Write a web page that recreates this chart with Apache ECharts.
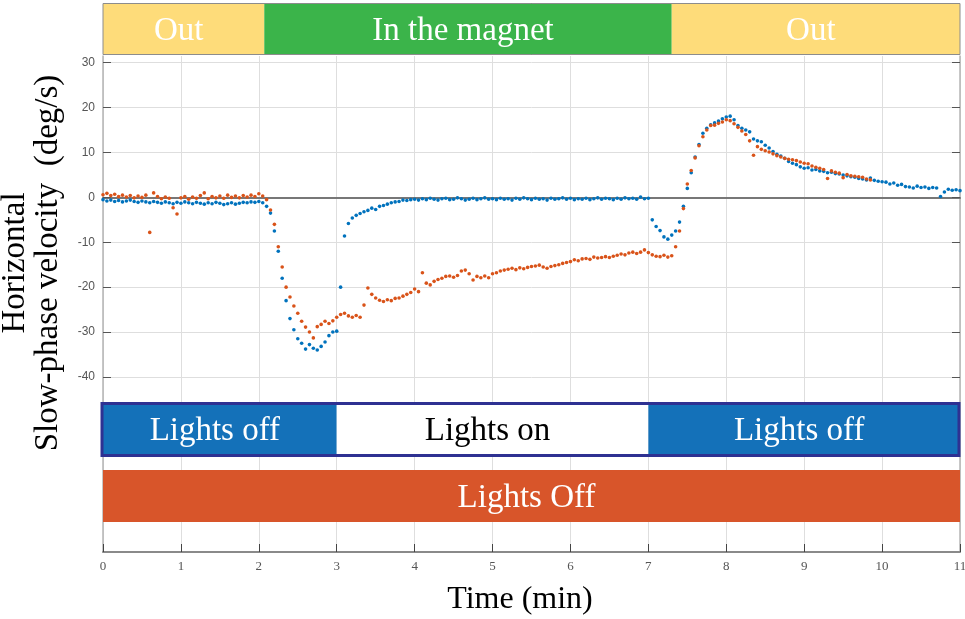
<!DOCTYPE html>
<html><head><meta charset="utf-8">
<script src="https://cdn.jsdelivr.net/npm/echarts@6/dist/echarts.min.js"></script>
<style>html,body{margin:0;padding:0;background:#fff}#chart{width:965px;height:619px}</style>
</head><body><div id="chart"></div>
<script>
// ---------------- data ----------------
const yTickValues = [-40, -30, -20, -10, 0, 10, 20, 30];
const magnetPhases = [[0, 2.07, 'Out'], [2.07, 7.3, 'In the magnet'], [7.3, 11, 'Out']];
const blueLightPhases = [[0, 3, 'Lights off'], [3, 7, 'Lights on'], [7, 11, 'Lights off']];
const orangeLightPhases = [[0, 11, 'Lights Off']];

const blueVelocity = [
[0,-0.5],[0.05,-0.8],[0.1,-0.6],[0.15,-0.9],[0.2,-0.7],[0.25,-1.0],[0.3,-0.8],[0.35,-0.6],[0.4,-0.9],[0.45,-1.1],
[0.5,-0.8],[0.55,-1.0],[0.6,-1.2],[0.65,-0.9],[0.7,-1.1],[0.75,-1.3],[0.8,-1.0],[0.85,-1.2],[0.9,-1.4],[0.95,-1.1],
[1.0,-1.3],[1.05,-1.0],[1.1,-1.2],[1.15,-1.4],[1.2,-1.1],[1.25,-1.3],[1.3,-1.5],[1.35,-1.2],[1.4,-1.4],[1.45,-1.1],
[1.5,-1.3],[1.55,-1.6],[1.6,-1.4],[1.65,-1.2],[1.7,-1.5],[1.75,-1.3],[1.8,-1.1],[1.85,-1.2],[1.9,-1.0],[1.95,-1.1],
[2.0,-0.9],[2.05,-1.2],[2.1,-2.0],[2.15,-3.5],[2.2,-7.5],[2.25,-12.0],[2.3,-18.0],[2.35,-23.0],[2.4,-27.0],[2.45,-29.5],
[2.5,-31.5],[2.55,-32.5],[2.6,-33.8],[2.65,-32.8],[2.7,-33.6],[2.75,-34.0],[2.8,-33.2],[2.85,-32.2],[2.9,-30.8],[2.95,-30.0],
[3.0,-29.8],[3.05,-20.0],[3.1,-8.6],[3.15,-5.8],[3.2,-4.6],[3.25,-4.0],[3.3,-3.6],[3.35,-3.2],[3.4,-2.9],[3.45,-2.4],
[3.5,-2.7],[3.55,-2.0],[3.6,-1.8],[3.65,-1.5],[3.7,-1.2],[3.75,-1.0],[3.8,-0.9],[3.85,-0.6],[3.9,-0.7],[3.95,-0.5],
[4.0,-0.4],[4.05,-0.6],[4.1,-0.3],[4.15,-0.5],[4.2,-0.2],[4.25,-0.4],[4.3,-0.6],[4.35,-0.3],[4.4,-0.2],[4.45,-0.5],
[4.5,-0.4],[4.55,-0.1],[4.6,-0.3],[4.65,-0.6],[4.7,-0.4],[4.75,-0.2],[4.8,-0.5],[4.85,-0.3],[4.9,-0.1],[4.95,-0.4],
[5.0,-0.3],[5.05,-0.5],[5.1,-0.2],[5.15,-0.4],[5.2,-0.3],[5.25,-0.6],[5.3,-0.2],[5.35,-0.4],[5.4,-0.1],[5.45,-0.3],
[5.5,-0.5],[5.55,-0.2],[5.6,-0.4],[5.65,-0.3],[5.7,-0.6],[5.75,-0.2],[5.8,-0.4],[5.85,-0.3],[5.9,-0.1],[5.95,-0.4],
[6.0,-0.2],[6.05,-0.5],[6.1,-0.3],[6.15,-0.4],[6.2,-0.2],[6.25,-0.5],[6.3,-0.3],[6.35,-0.1],[6.4,-0.4],[6.45,-0.2],
[6.5,-0.3],[6.55,-0.5],[6.6,-0.2],[6.65,-0.4],[6.7,-0.1],[6.75,-0.3],[6.8,-0.2],[6.85,-0.4],[6.9,0.1],[6.95,-0.3],
[7.0,-0.2],[7.05,-5.0],[7.1,-6.5],[7.15,-7.4],[7.2,-8.8],[7.25,-9.3],[7.3,-8.4],[7.35,-7.5],[7.4,-5.5],[7.45,-2.0],
[7.5,2.0],[7.55,5.5],[7.6,9.0],[7.65,11.8],[7.7,14.3],[7.75,15.4],[7.8,16.2],[7.85,16.6],[7.9,17.0],[7.95,17.5],
[8.0,17.9],[8.05,18.1],[8.1,17.3],[8.15,16.0],[8.2,15.4],[8.25,15.0],[8.3,14.6],[8.35,13.0],[8.4,12.6],[8.45,12.4],
[8.5,11.6],[8.55,11.0],[8.6,10.2],[8.65,9.6],[8.7,9.2],[8.75,8.7],[8.8,8.0],[8.85,7.6],[8.9,7.3],[8.95,6.8],
[9.0,6.5],[9.05,6.6],[9.1,6.1],[9.15,6.2],[9.2,5.9],[9.25,5.8],[9.3,5.5],[9.35,5.6],[9.4,5.3],[9.45,5.2],
[9.5,5.0],[9.55,4.8],[9.6,4.6],[9.65,4.5],[9.7,4.2],[9.75,4.1],[9.8,3.9],[9.85,4.3],[9.9,3.8],[9.95,3.6],
[10.0,3.5],[10.05,3.4],[10.1,3.0],[10.15,3.2],[10.2,2.7],[10.25,2.9],[10.3,2.4],[10.35,2.3],[10.4,2.1],[10.45,2.5],
[10.5,2.2],[10.55,2.3],[10.6,2.0],[10.65,2.2],[10.7,2.1],[10.75,0.2],[10.8,1.2],[10.85,1.8],[10.9,1.6],[10.95,1.7],
[11.0,1.5]
];

const orangeVelocity = [
[0,0.6],[0.05,0.9],[0.1,0.4],[0.15,0.7],[0.2,0.2],[0.25,0.5],[0.3,0.1],[0.35,0.4],[0.4,-0.1],[0.45,0.3],
[0.5,0.0],[0.55,0.5],[0.6,-7.8],[0.65,1.0],[0.7,0.2],[0.75,-0.3],[0.8,0.1],[0.85,-0.2],[0.9,-2.3],[0.95,-3.7],
[1.0,-0.1],[1.05,0.2],[1.1,-0.4],[1.15,0.1],[1.2,-0.2],[1.25,0.4],[1.3,1.0],[1.35,-0.3],[1.4,0.2],[1.45,-0.1],
[1.5,0.3],[1.55,-0.2],[1.6,0.5],[1.65,0.0],[1.7,0.3],[1.75,-0.1],[1.8,0.4],[1.85,0.1],[1.9,0.5],[1.95,0.2],
[2.0,0.8],[2.05,0.3],[2.1,-0.5],[2.15,-2.8],[2.2,-6.0],[2.25,-11.0],[2.3,-15.5],[2.35,-20.0],[2.4,-22.2],[2.45,-24.2],
[2.5,-25.8],[2.55,-27.6],[2.6,-28.9],[2.65,-30.0],[2.7,-31.3],[2.75,-28.8],[2.8,-28.3],[2.85,-27.6],[2.9,-28.1],[2.95,-27.5],
[3.0,-26.7],[3.05,-26.1],[3.1,-25.8],[3.15,-26.4],[3.2,-26.7],[3.25,-26.3],[3.3,-26.7],[3.35,-24.0],[3.4,-20.2],[3.45,-21.6],
[3.5,-22.4],[3.55,-22.9],[3.6,-23.2],[3.65,-22.8],[3.7,-23.0],[3.75,-22.5],[3.8,-22.4],[3.85,-22.0],[3.9,-21.6],[3.95,-21.2],
[4.0,-20.4],[4.05,-21.0],[4.1,-16.8],[4.15,-19.1],[4.2,-19.5],[4.25,-18.7],[4.3,-18.3],[4.35,-18.0],[4.4,-17.6],[4.45,-17.5],
[4.5,-17.8],[4.55,-17.4],[4.6,-16.4],[4.65,-16.2],[4.7,-17.0],[4.75,-18.4],[4.8,-17.6],[4.85,-17.9],[4.9,-17.5],[4.95,-17.9],
[5.0,-17.0],[5.05,-16.8],[5.1,-16.4],[5.15,-16.2],[5.2,-16.0],[5.25,-15.8],[5.3,-16.1],[5.35,-15.7],[5.4,-15.9],[5.45,-15.6],
[5.5,-15.4],[5.55,-15.3],[5.6,-15.1],[5.65,-15.5],[5.7,-15.8],[5.75,-15.4],[5.8,-15.2],[5.85,-15.0],[5.9,-14.7],[5.95,-14.5],
[6.0,-14.3],[6.05,-13.9],[6.1,-14.1],[6.15,-13.7],[6.2,-13.6],[6.25,-13.8],[6.3,-13.3],[6.35,-13.5],[6.4,-13.4],[6.45,-13.2],
[6.5,-13.4],[6.55,-13.1],[6.6,-12.9],[6.65,-12.6],[6.7,-12.8],[6.75,-12.4],[6.8,-12.2],[6.85,-12.5],[6.9,-12.2],[6.95,-11.7],
[7.0,-12.3],[7.05,-12.8],[7.1,-13.1],[7.15,-13.2],[7.2,-12.9],[7.25,-13.3],[7.3,-13.0],[7.35,-11.0],[7.4,-7.5],[7.45,-2.5],
[7.5,3.0],[7.55,6.0],[7.6,8.8],[7.65,11.5],[7.7,13.5],[7.75,15.0],[7.8,16.0],[7.85,16.1],[7.9,16.5],[7.95,16.8],
[8.0,17.3],[8.05,17.1],[8.1,16.4],[8.15,15.6],[8.2,14.8],[8.25,14.0],[8.3,12.6],[8.35,9.4],[8.4,11.3],[8.45,10.7],
[8.5,10.4],[8.55,10.1],[8.6,9.7],[8.65,9.3],[8.7,9.0],[8.75,8.7],[8.8,8.5],[8.85,8.4],[8.9,8.2],[8.95,7.9],
[9.0,7.6],[9.05,7.5],[9.1,7.0],[9.15,6.7],[9.2,6.5],[9.25,6.2],[9.3,4.2],[9.35,5.9],[9.4,5.6],[9.45,5.4],
[9.5,4.4],[9.55,5.1],[9.6,4.8],[9.65,4.7],[9.7,4.6],[9.75,4.5],[9.8,4.1],[9.85,3.9]
];

// ---------------- styles ----------------
const BLUE = '#0072BD', ORANGE = '#D95319';
const phaseFill = { 'Out': '#FEDC7A', 'In the magnet': '#3BB44A', 'Lights off': '#1471B9', 'Lights on': '#FFFFFF', 'Lights Off': '#D8552A' };
const phaseText = { 'Lights on': '#000000' };
const SERIF = '"Liberation Serif", "Times New Roman", serif';

function segmentRenderer(phases) {
  return function (params, api) {
    const p = phases[params.dataIndex];
    const x0 = api.coord([p[0], 0])[0];
    const x1 = api.coord([p[1], 0])[0];
    const cs = params.coordSys;
    return {
      type: 'group',
      children: [
        { type: 'rect', shape: { x: x0, y: cs.y, width: x1 - x0, height: cs.height },
          style: { fill: phaseFill[p[2]] } },
        { type: 'text', style: { text: p[2], x: (x0 + x1) / 2 - 5, y: cs.y + cs.height / 2 + 2,
          fill: phaseText[p[2]] || '#FFFFFF', fontSize: 33, fontFamily: SERIF,
          align: 'center', verticalAlign: 'middle' } }
      ]
    };
  };
}
function frameRenderer(phases, color, width) {
  return function (params, api) {
    const x0 = api.coord([phases[0][0], 0])[0];
    const x1 = api.coord([phases[phases.length - 1][1], 0])[0];
    const cs = params.coordSys;
    const h = width / 2;
    return { type: 'rect', shape: { x: x0 - h + 0.5, y: cs.y + h, width: x1 - x0, height: cs.height - width },
      style: { fill: 'none', stroke: color, lineWidth: width } };
  };
}

const hiddenX = (g) => ({ type: 'value', gridIndex: g, min: 0, max: 11, show: false });
const hiddenY = (g) => ({ type: 'value', gridIndex: g, min: 0, max: 1, show: false });

const chart = echarts.init(document.getElementById('chart'), null, { renderer: 'canvas' });
chart.setOption({
  animation: false,
  backgroundColor: '#ffffff',
  grid: [
    { left: 103, right: 5, top: 56, bottom: 67, outerBoundsMode: 'none', containLabel: false },
    { left: 103, right: 5, top: 3, height: 52, outerBoundsMode: 'none' },
    { left: 103, right: 5, top: 402, height: 55, outerBoundsMode: 'none' },
    { left: 103, right: 5, top: 470, height: 52, outerBoundsMode: 'none' }
  ],
  xAxis: [
    { type: 'value', gridIndex: 0, min: 0, max: 11, interval: 1, position: 'bottom',
      axisLine: { show: true, onZero: false, lineStyle: { color: '#8a8a8a', width: 2 } },
      axisTick: { show: true, inside: true, length: 8, lineStyle: { color: '#444', width: 1 } },
      axisLabel: { show: true, color: '#555', fontFamily: SERIF, fontSize: 13, margin: 8 },
      splitLine: { show: true, lineStyle: { color: '#dedede', width: 1 } } },
    { type: 'value', gridIndex: 0, min: 0, max: 11, position: 'bottom',
      axisLine: { show: true, onZero: true, onZeroAxisIndex: 0, lineStyle: { color: '#777', width: 2 } },
      axisTick: { show: false }, axisLabel: { show: false }, splitLine: { show: false } },
    hiddenX(1), hiddenX(2), hiddenX(3)
  ],
  yAxis: [
    { type: 'value', gridIndex: 0, min: -79, max: 31.5, position: 'left',
      axisLine: { show: true, onZero: false, lineStyle: { color: '#b5b5b5', width: 1.5 } },
      axisTick: { show: true, inside: true, length: 8, customValues: yTickValues, lineStyle: { color: '#555' } },
      axisLabel: { show: true, customValues: yTickValues, color: '#555', fontFamily: '"Liberation Sans", Arial, sans-serif', fontSize: 12, margin: 8 },
      splitLine: { show: true, lineStyle: { color: '#dedede', width: 1 } } },
    { type: 'value', gridIndex: 0, min: -79, max: 31.5, position: 'right',
      axisLine: { show: true, onZero: false, lineStyle: { color: '#b5b5b5', width: 1.5 } },
      axisTick: { show: true, inside: true, length: 8, customValues: yTickValues, lineStyle: { color: '#555' } },
      axisLabel: { show: false }, splitLine: { show: false } },
    hiddenY(1), hiddenY(2), hiddenY(3)
  ],
  graphic: [
    { type: 'text', x: 15, y: 263, rotation: Math.PI / 2,
      style: { text: 'Horizontal', fill: '#000', fontSize: 33, fontFamily: SERIF, align: 'center', verticalAlign: 'middle' } },
    { type: 'text', x: 48, y: 263, rotation: Math.PI / 2,
      style: { text: 'Slow-phase velocity  (deg/s)', fill: '#000', fontSize: 33, fontFamily: SERIF, align: 'center', verticalAlign: 'middle' } },
    { type: 'text', x: 520, y: 600,
      style: { text: 'Time (min)', fill: '#000', fontSize: 32, fontFamily: SERIF, align: 'center', verticalAlign: 'middle' } }
  ],
  series: [
    { type: 'scatter', name: 'Lights on/off', xAxisIndex: 0, yAxisIndex: 0, data: blueVelocity,
      symbol: 'circle', symbolSize: 3.6, itemStyle: { color: BLUE, opacity: 1 }, silent: true, z: 3 },
    { type: 'scatter', name: 'Lights off', xAxisIndex: 0, yAxisIndex: 0, data: orangeVelocity,
      symbol: 'circle', symbolSize: 3.6, itemStyle: { color: ORANGE, opacity: 1 }, silent: true, z: 4 },
    { type: 'custom', xAxisIndex: 2, yAxisIndex: 2, data: magnetPhases, renderItem: segmentRenderer(magnetPhases), silent: true, z: 2 },
    { type: 'custom', xAxisIndex: 2, yAxisIndex: 2, data: [magnetPhases[0]], renderItem: frameRenderer(magnetPhases, '#8c8c8c', 1), silent: true, z: 3 },
    { type: 'custom', xAxisIndex: 3, yAxisIndex: 3, data: blueLightPhases, renderItem: segmentRenderer(blueLightPhases), silent: true, z: 5 },
    { type: 'custom', xAxisIndex: 3, yAxisIndex: 3, data: [blueLightPhases[0]], renderItem: frameRenderer(blueLightPhases, '#2E3192', 3), silent: true, z: 6 },
    { type: 'custom', xAxisIndex: 4, yAxisIndex: 4, data: orangeLightPhases, renderItem: segmentRenderer(orangeLightPhases), silent: true, z: 5 }
  ]
});
</script></body></html>
